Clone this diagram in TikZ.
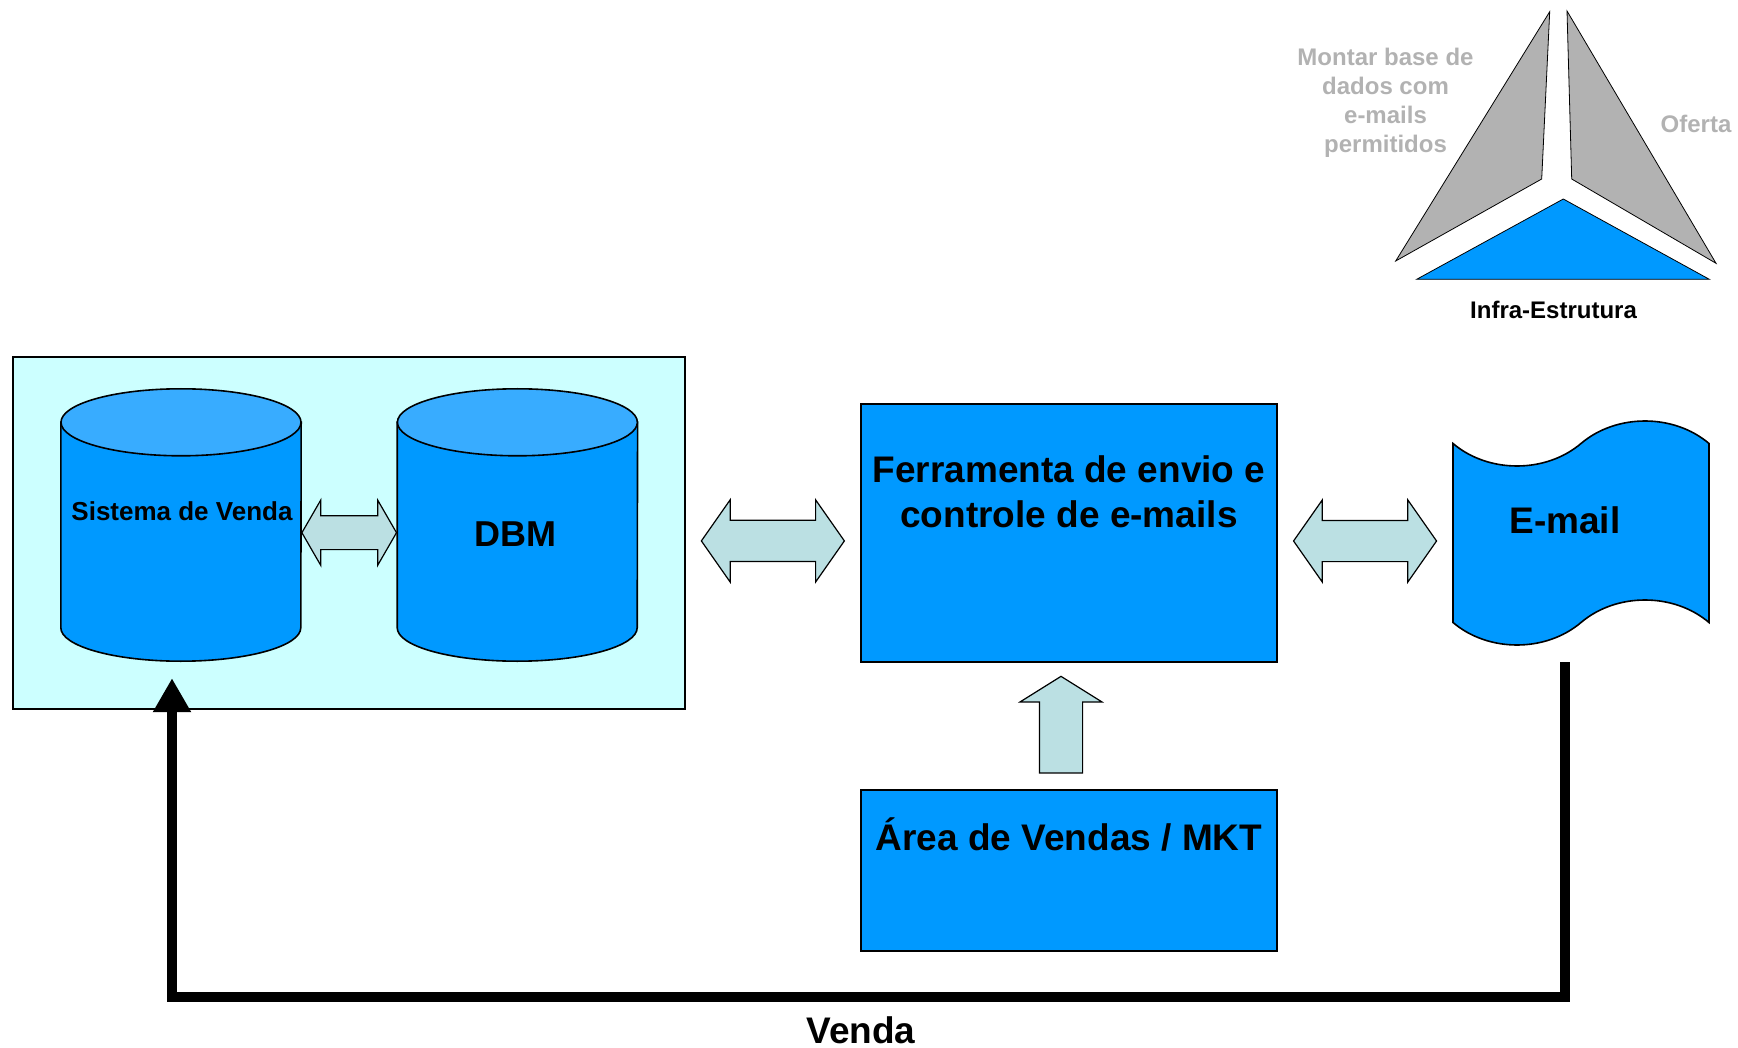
\documentclass[tikz,border=0pt]{standalone}
\usepackage{fontspec}
\setmainfont{Liberation Sans}
\usetikzlibrary{positioning,shapes.arrows,shapes.symbols,arrows.meta,calc}

\definecolor{boxblue}{RGB}{0,153,255}
\definecolor{topblue}{RGB}{56,172,255}
\definecolor{panelcyan}{RGB}{204,255,255}
\definecolor{arrowfill}{RGB}{187,224,227}
\definecolor{trigray}{RGB}{178,178,178}

\begin{document}
\begin{tikzpicture}[
        x=1pt, y=-1pt,
        panel/.style={rectangle, draw, line width=1.8pt, fill=panelcyan, minimum width=672pt, minimum height=352pt, inner sep=0pt},
        dbarea/.style={rectangle, minimum width=240pt, minimum height=272pt, inner sep=0pt},
        dbbody/.style={draw, line width=1.6pt, fill=boxblue},
        dbtop/.style={draw, line width=1.6pt, fill=topblue},
        block/.style={rectangle, draw, line width=1.8pt, fill=boxblue, minimum width=416pt, inner sep=0pt},
        mail/.style={tape, draw, line width=1.6pt, fill=boxblue, minimum width=256pt, minimum height=224pt, tape bend height=45pt, inner sep=0pt},
        flow/.style={double arrow, draw, line width=1.2pt, fill=arrowfill, inner xsep=0pt, inner ysep=20pt, double arrow head extend=20.5pt, double arrow tip angle=110, minimum width=81pt, minimum height=143pt},
        push/.style={single arrow, draw, line width=1.2pt, fill=arrowfill, rotate=90, inner xsep=0pt, inner ysep=21pt, single arrow head extend=19.5pt, single arrow tip angle=116, minimum width=81pt, minimum height=96.6pt},
        feedback/.style={line width=10pt, line join=miter, -{Triangle[width=36pt,length=34pt]}},
        bigtext/.style={font=\fontsize{37}{45}\selectfont\bfseries, inner sep=0pt},
        dbtext/.style={font=\fontsize{26}{30}\selectfont\bfseries, inner sep=0pt},
        tritext/.style={font=\fontsize{24}{29.3}\selectfont\bfseries, inner sep=0pt, align=center},
        piece/.style={draw=black, line width=0.8pt}
    ]
        \useasboundingbox (0,0) rectangle (1738,1048);

        % Painel com as bases
        \node[panel] (panel) at (348.75,532.85) {};
        \node[dbarea] (sistema) at (181,525) {};
        \node[dbarea, right=96pt of sistema] (dbm) {};
        \foreach \db in {sistema,dbm}{
            \draw[dbbody] ([yshift=-33.5pt]\db.north west) -- ([yshift=33.5pt]\db.south west)
                arc[start angle=180, end angle=360, x radius=120pt, y radius=33.5pt]
                -- ([yshift=-33.5pt]\db.north east) -- cycle;
            \draw[dbtop] ([yshift=-33.5pt]\db.north) ellipse[x radius=120pt, y radius=33.5pt];
        }
        \node[dbtext, anchor=base, xshift=1pt, yshift=5pt] at (sistema.center) {Sistema de Venda};
        \node[bigtext, font=\fontsize{36}{44}\selectfont\bfseries, anchor=base, xshift=-2pt, yshift=-21.7pt] at (dbm.center) {DBM};

        % Ferramenta, e-mail e area
        \node[block, minimum height=258pt] (ferramenta) at (1069,533) {};
        \node[block, minimum height=161pt, below=126pt of ferramenta] (area) {};
        \node[mail] (email) at (1581,533) {};

        \node[bigtext, align=center, anchor=base, yshift=-124pt] at (ferramenta.north) {Ferramenta de envio e\\controle de e-mails};
        \node[bigtext, anchor=base, yshift=-62pt] at (area.north) {Área de Vendas / MKT};
        \node[bigtext, anchor=base, xshift=-16pt] at (email.center) {E-mail};

        % Setas entre os blocos
        \node[flow, minimum height=94.6pt, minimum width=64pt, inner ysep=16.3pt, double arrow head extend=15.7pt, double arrow tip angle=120, yshift=-7.7pt] (dbsync) at ($(sistema.east)!0.5!(dbm.west)$) {};
        \node[flow, yshift=-8pt] (panelsync) at ($(panel.east)!0.5!(ferramenta.west)$) {};
        \node[flow, yshift=-8pt] (mailsync) at ($(ferramenta.east)!0.5!(email.west)$) {};
        \node[xshift=-8pt, yshift=-5.5pt, push] (areapush) at ($(area.north)!0.5!(ferramenta.south)$) {};

        % Retorno da venda
        \coordinate (mailout) at (1565,662);
        \coordinate (loopline) at (0,997);
        \draw[feedback] (mailout) -- (mailout |- loopline) -| ([xshift=-9pt,yshift=-17pt]sistema.south);
        \node[bigtext, anchor=base] (venda) at (861,1043) {Venda};

        % Triangulo
        \filldraw[piece, fill=trigray] (1549.7,11.7) -- (1541.7,179) -- (1395.7,261) -- cycle;
        \filldraw[piece, fill=trigray] (1567,11) -- (1571.7,179) -- (1716,263.3) -- cycle;
        \filldraw[piece, fill=boxblue] (1563.3,199) -- (1416.7,279.3) -- (1709.3,279.3) -- cycle;
        \node[tritext, text=trigray, anchor=base] (montar) at (1385.5,153) {Montar base de\\dados com\\e-mails\\permitidos};
        \node[tritext, text=trigray, anchor=base] (oferta) at (1696,132.7) {Oferta};
        \node[tritext, anchor=base] (infra) at (1553.5,319) {Infra-Estrutura};

    \end{tikzpicture}
\end{document}
